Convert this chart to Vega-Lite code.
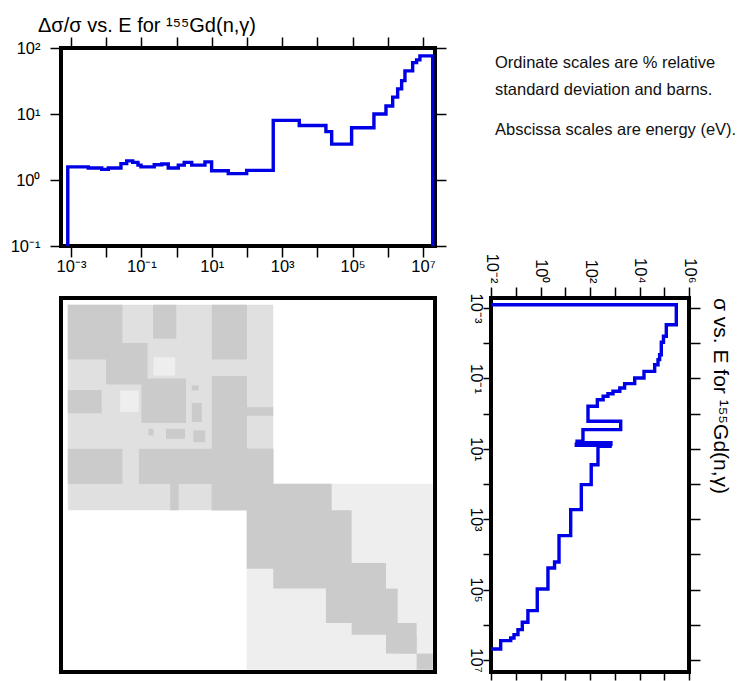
{
  "$schema": "https://vega.github.io/schema/vega-lite/v6.json",
  "padding": {"left": 8, "top": 14, "right": 5, "bottom": 2},
  "config": {
    "font": "Liberation Sans",
    "view": {"stroke": "#000000", "strokeWidth": 4},
    "axis": {"domain": false, "grid": false, "tickColor": "#000000", "tickWidth": 1.5, "tickSize": 11, "labelFontSize": 16.5, "labelColor": "#000000", "labelFont": "Liberation Sans", "labelFlush": false, "labelOverlap": false, "labelBound": false}
  },
  "datasets": {
    "rel": [
      {"i": 0, "E": 0.00081, "v": 0.09}, {"i": 1, "E": 0.00081, "v": 1.58}, {"i": 2, "E": 0.0031, "v": 1.52},
      {"i": 3, "E": 0.00745, "v": 1.45}, {"i": 4, "E": 0.0115, "v": 1.52}, {"i": 5, "E": 0.0263, "v": 1.77},
      {"i": 6, "E": 0.0382, "v": 1.95}, {"i": 7, "E": 0.0566, "v": 1.85}, {"i": 8, "E": 0.08, "v": 1.68},
      {"i": 9, "E": 0.0975, "v": 1.58}, {"i": 10, "E": 0.232, "v": 1.7}, {"i": 11, "E": 0.377, "v": 1.75},
      {"i": 12, "E": 0.58, "v": 1.52}, {"i": 13, "E": 1.12, "v": 1.68}, {"i": 14, "E": 1.65, "v": 1.85},
      {"i": 15, "E": 2.69, "v": 1.68}, {"i": 16, "E": 6.4, "v": 1.88}, {"i": 17, "E": 9.9, "v": 1.38},
      {"i": 18, "E": 29.4, "v": 1.25}, {"i": 19, "E": 98, "v": 1.4}, {"i": 20, "E": 558, "v": 8.0},
      {"i": 21, "E": 3060, "v": 6.7}, {"i": 22, "E": 17500, "v": 5.4}, {"i": 23, "E": 25500, "v": 3.5},
      {"i": 24, "E": 94000, "v": 6.2}, {"i": 25, "E": 405000, "v": 10.0}, {"i": 26, "E": 890000, "v": 13.2},
      {"i": 27, "E": 1380000, "v": 18}, {"i": 28, "E": 1910000, "v": 24}, {"i": 29, "E": 2480000, "v": 32},
      {"i": 30, "E": 3080000, "v": 45}, {"i": 31, "E": 5100000, "v": 60}, {"i": 32, "E": 6600000, "v": 66},
      {"i": 33, "E": 8200000, "v": 76}, {"i": 34, "E": 18900000, "v": 0.09}
    ],
    "xs": [
      {"i": 0, "E": 0.00081, "s": 0.005}, {"i": 1, "E": 0.00081, "s": 307000}, {"i": 2, "E": 0.00298, "s": 121000},
      {"i": 3, "E": 0.00638, "s": 93000}, {"i": 4, "E": 0.00944, "s": 76000}, {"i": 5, "E": 0.0212, "s": 65000},
      {"i": 6, "E": 0.0294, "s": 56000}, {"i": 7, "E": 0.0408, "s": 41000}, {"i": 8, "E": 0.0631, "s": 15200},
      {"i": 9, "E": 0.0975, "s": 6400}, {"i": 10, "E": 0.141, "s": 2500}, {"i": 11, "E": 0.187, "s": 1600},
      {"i": 12, "E": 0.233, "s": 850}, {"i": 13, "E": 0.272, "s": 530}, {"i": 14, "E": 0.323, "s": 340},
      {"i": 15, "E": 0.403, "s": 198}, {"i": 16, "E": 0.621, "s": 83}, {"i": 17, "E": 1.656, "s": 1740},
      {"i": 18, "E": 2.858, "s": 52}, {"i": 19, "E": 6.12, "s": 30}, {"i": 20, "E": 6.76, "s": 700},
      {"i": 21, "E": 7.41, "s": 28}, {"i": 22, "E": 7.94, "s": 650}, {"i": 23, "E": 8.49, "s": 210},
      {"i": 24, "E": 28.3, "s": 112}, {"i": 25, "E": 104.7, "s": 44.6}, {"i": 26, "E": 537, "s": 16.6},
      {"i": 27, "E": 2944, "s": 5.6}, {"i": 28, "E": 16440, "s": 3.7}, {"i": 29, "E": 24300, "s": 2.0},
      {"i": 30, "E": 96200, "s": 0.74}, {"i": 31, "E": 398000, "s": 0.31}, {"i": 32, "E": 851000, "s": 0.184},
      {"i": 33, "E": 1377000, "s": 0.123}, {"i": 34, "E": 1905000, "s": 0.085}, {"i": 35, "E": 2370000, "s": 0.0625},
      {"i": 36, "E": 2820000, "s": 0.0246}, {"i": 37, "E": 4900000, "s": 0.005}, {"i": 38, "E": 20000000, "s": 0.005}
    ],
    "cov": [
      {"x1": 0.00081, "x2": 558, "y1": 0.00081, "y2": 558, "lvl": "dense"},
      {"x1": 98, "x2": 18900000, "y1": 98, "y2": 18900000, "lvl": "sparse"},
      {"x1": 0.22, "x2": 0.91, "y1": 0.025, "y2": 0.083, "lvl": "sparse"},
      {"x1": 0.025, "x2": 0.083, "y1": 0.22, "y2": 0.91, "lvl": "sparse"},
      {"x1": 0.00081, "x2": 0.029, "y1": 0.00081, "y2": 0.029, "lvl": "solid"},
      {"x1": 0.0099, "x2": 0.15, "y1": 0.0099, "y2": 0.15, "lvl": "solid"},
      {"x1": 0.214, "x2": 0.98, "y1": 0.00081, "y2": 0.00745, "lvl": "solid"},
      {"x1": 0.00081, "x2": 0.00745, "y1": 0.214, "y2": 0.98, "lvl": "solid"},
      {"x1": 10, "x2": 100, "y1": 0.00081, "y2": 0.029, "lvl": "solid"},
      {"x1": 0.00081, "x2": 0.029, "y1": 10, "y2": 100, "lvl": "solid"},
      {"x1": 0.1, "x2": 1.85, "y1": 0.1, "y2": 1.85, "lvl": "solid"},
      {"x1": 10, "x2": 100, "y1": 0.085, "y2": 558, "lvl": "solid"},
      {"x1": 0.085, "x2": 558, "y1": 10, "y2": 100, "lvl": "solid"},
      {"x1": 100, "x2": 558, "y1": 10, "y2": 558, "lvl": "solid"},
      {"x1": 10, "x2": 558, "y1": 100, "y2": 558, "lvl": "solid"},
      {"x1": 100, "x2": 558, "y1": 0.66, "y2": 1.15, "lvl": "solid"},
      {"x1": 0.66, "x2": 1.15, "y1": 100, "y2": 558, "lvl": "solid"},
      {"x1": 0.5, "x2": 1.74, "y1": 2.7, "y2": 5.2, "lvl": "solid"},
      {"x1": 2.7, "x2": 5.2, "y1": 0.5, "y2": 1.74, "lvl": "solid"},
      {"x1": 3.0, "x2": 6.5, "y1": 3.0, "y2": 6.5, "lvl": "solid"},
      {"x1": 0.158, "x2": 0.219, "y1": 2.7, "y2": 4.2, "lvl": "solid"},
      {"x1": 2.7, "x2": 4.2, "y1": 0.158, "y2": 0.219, "lvl": "solid"},
      {"x1": 98, "x2": 25500, "y1": 98, "y2": 25500, "lvl": "solid"},
      {"x1": 558, "x2": 94000, "y1": 558, "y2": 94000, "lvl": "solid"},
      {"x1": 17500, "x2": 890000, "y1": 17500, "y2": 890000, "lvl": "solid"},
      {"x1": 94000, "x2": 5100000, "y1": 890000, "y2": 1910000, "lvl": "solid"},
      {"x1": 890000, "x2": 1910000, "y1": 94000, "y2": 5100000, "lvl": "solid"},
      {"x1": 890000, "x2": 6600000, "y1": 1910000, "y2": 6600000, "lvl": "solid"},
      {"x1": 1910000, "x2": 6600000, "y1": 890000, "y2": 6600000, "lvl": "solid"},
      {"x1": 6600000, "x2": 18900000, "y1": 6600000, "y2": 18900000, "lvl": "solid"}
    ],
    "notes": [
      {"line": "Ordinate scales are % relative", "row": 1, "col": 0},
      {"line": "standard deviation and barns.", "row": 2, "col": 0},
      {"line": "Abscissa scales are energy (eV).", "row": 3.5, "col": 0}
    ]
  },
  "columns": 2,
  "spacing": {"row": 52, "column": 56},
  "bounds": "flush",
  "concat": [
    {
      "width": 374,
      "height": 198,
      "title": {"text": "Δσ/σ vs. E for ¹⁵⁵Gd(n,γ)", "anchor": "start", "frame": "group", "fontSize": 20, "fontWeight": "normal", "font": "Liberation Sans", "color": "#000000", "dx": -23, "offset": -16, "baseline": "alphabetic"},
      "data": {"name": "rel"},
      "layer": [
        {
          "mark": {"type": "line", "interpolate": "step-after", "color": "#0000e6", "strokeWidth": 3.4, "clip": true},
          "encoding": {
            "x": {"field": "E", "type": "quantitative", "scale": {"type": "log", "domain": [0.00052, 22000000], "nice": false},
              "axis": {"orient": "bottom", "title": null, "values": [0.001, 0.01, 0.1, 1, 10, 100, 1000, 10000, 100000, 1000000, 10000000], "labelPadding": 1,
                "labelExpr": "abs(round(log(datum.value)/LN10)) % 2 == 1 ? '10' + replace(replace(replace(replace(replace(replace(replace(replace(replace(replace(replace(''+round(log(datum.value)/LN10),'-','⁻'),'0','⁰'),'1','¹'),'2','²'),'3','³'),'4','⁴'),'5','⁵'),'6','⁶'),'7','⁷'),'8','⁸'),'9','⁹') : ''"}},
            "y": {"field": "v", "type": "quantitative", "scale": {"type": "log", "domain": [0.1, 100], "nice": false},
              "axis": {"orient": "left", "title": null, "values": [0.1, 1, 10, 100], "labelPadding": 10,
                "labelExpr": "'10' + replace(replace(replace(replace(replace(replace(replace(replace(replace(replace(replace(''+round(log(datum.value)/LN10),'-','⁻'),'0','⁰'),'1','¹'),'2','²'),'3','³'),'4','⁴'),'5','⁵'),'6','⁶'),'7','⁷'),'8','⁸'),'9','⁹')"}},
            "order": {"field": "i", "type": "quantitative"}
          }
        },
        {
          "mark": {"type": "line", "opacity": 0},
          "encoding": {
            "x": {"field": "E", "type": "quantitative", "axis": {"orient": "top", "title": null, "labels": false, "values": [0.001, 0.01, 0.1, 1, 10, 100, 1000, 10000, 100000, 1000000, 10000000]}},
            "y": {"field": "v", "type": "quantitative", "axis": {"orient": "right", "title": null, "labels": false, "values": [0.1, 1, 10, 100]}},
            "order": {"field": "i", "type": "quantitative"}
          }
        }
      ],
      "resolve": {"axis": {"x": "independent", "y": "independent"}}
    },
    {
      "width": 240,
      "height": 198,
      "view": {"stroke": null},
      "data": {"name": "notes"},
      "mark": {"type": "text", "align": "left", "baseline": "alphabetic", "fontSize": 16.5, "font": "Liberation Sans", "color": "#111111", "dx": 4},
      "encoding": {
        "text": {"field": "line", "type": "nominal"},
        "x": {"field": "col", "type": "quantitative", "scale": {"domain": [0, 1]}, "axis": null},
        "y": {"field": "row", "type": "quantitative", "scale": {"domain": [0.27, 7.603], "reverse": true}, "axis": null}
      }
    },
    {
      "width": 374,
      "height": 374,
      "data": {"name": "cov"},
      "mark": {"type": "rect"},
      "encoding": {
        "x": {"field": "x1", "type": "quantitative", "scale": {"type": "log", "domain": [0.00052, 22000000], "nice": false}, "axis": null},
        "x2": {"field": "x2"},
        "y": {"field": "y1", "type": "quantitative", "scale": {"type": "log", "domain": [0.00052, 22000000], "nice": false, "reverse": true}, "axis": null},
        "y2": {"field": "y2"},
        "color": {"field": "lvl", "type": "nominal", "scale": {"domain": ["dense", "sparse", "solid"], "range": ["#e0e0e0", "#eeeeee", "#cbcbcb"]}, "legend": null}
      }
    },
    {
      "width": 198,
      "height": 374,
      "title": {"text": "σ vs. E for ¹⁵⁵Gd(n,γ)", "orient": "right", "anchor": "start", "frame": "group", "fontSize": 21, "fontWeight": "normal", "font": "Liberation Sans", "color": "#000000", "offset": 9},
      "data": {"name": "xs"},
      "layer": [
        {
          "mark": {"type": "line", "interpolate": "step-before", "color": "#0000e6", "strokeWidth": 3.4, "clip": true},
          "encoding": {
            "x": {"field": "s", "type": "quantitative", "scale": {"type": "log", "domain": [0.01, 1000000], "nice": false},
              "axis": {"orient": "top", "title": null, "values": [0.01, 0.1, 1, 10, 100, 1000, 10000, 100000, 1000000], "labelAngle": 90, "labelAlign": "right", "labelBaseline": "middle", "labelPadding": 4,
                "labelExpr": "abs(round(log(datum.value)/LN10)) % 2 == 0 ? '10' + replace(replace(replace(replace(replace(replace(replace(replace(replace(replace(replace(''+round(log(datum.value)/LN10),'-','⁻'),'0','⁰'),'1','¹'),'2','²'),'3','³'),'4','⁴'),'5','⁵'),'6','⁶'),'7','⁷'),'8','⁸'),'9','⁹') : ''"}},
            "y": {"field": "E", "type": "quantitative", "scale": {"type": "log", "domain": [0.00052, 22000000], "nice": false, "reverse": true},
              "axis": {"orient": "left", "title": null, "values": [0.001, 0.01, 0.1, 1, 10, 100, 1000, 10000, 100000, 1000000, 10000000], "labelAngle": 90, "labelAlign": "center", "labelBaseline": "top", "labelPadding": 0, "tickSize": 8,
                "labelExpr": "abs(round(log(datum.value)/LN10)) % 2 == 1 ? '10' + replace(replace(replace(replace(replace(replace(replace(replace(replace(replace(replace(''+round(log(datum.value)/LN10),'-','⁻'),'0','⁰'),'1','¹'),'2','²'),'3','³'),'4','⁴'),'5','⁵'),'6','⁶'),'7','⁷'),'8','⁸'),'9','⁹') : ''"}},
            "order": {"field": "i", "type": "quantitative"}
          }
        },
        {
          "mark": {"type": "line", "opacity": 0},
          "encoding": {
            "x": {"field": "s", "type": "quantitative", "axis": {"orient": "bottom", "title": null, "labels": false, "tickSize": 8, "values": [0.01, 0.1, 1, 10, 100, 1000, 10000, 100000, 1000000]}},
            "y": {"field": "E", "type": "quantitative", "axis": {"orient": "right", "title": null, "labels": false, "values": [0.001, 0.01, 0.1, 1, 10, 100, 1000, 10000, 100000, 1000000, 10000000]}},
            "order": {"field": "i", "type": "quantitative"}
          }
        }
      ],
      "resolve": {"axis": {"x": "independent", "y": "independent"}}
    }
  ]
}
